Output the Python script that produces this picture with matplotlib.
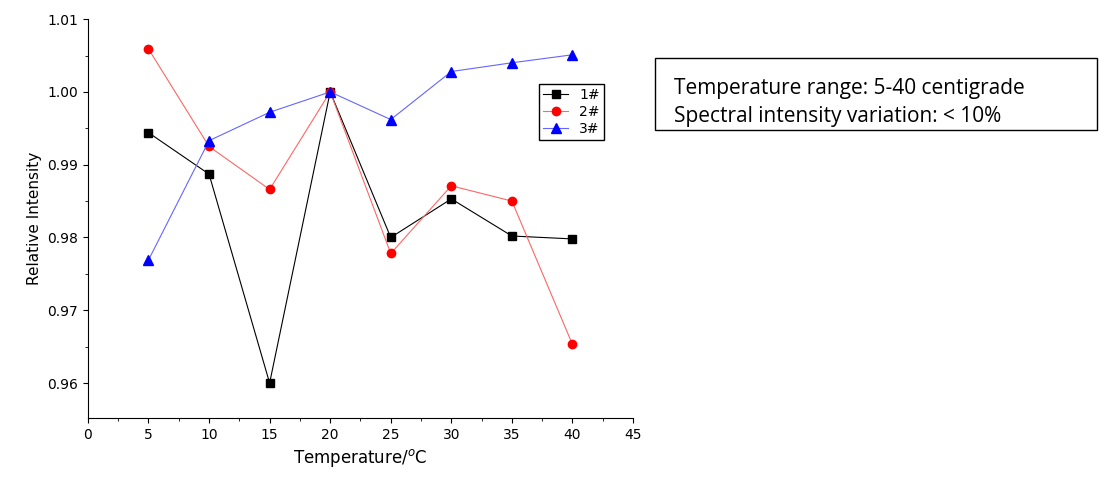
import matplotlib.pyplot as plt
from matplotlib.ticker import MultipleLocator
from matplotlib.patches import Rectangle

temps = [5, 10, 15, 20, 25, 30, 35, 40]
s1 = [0.9944, 0.9887, 0.9600, 1.0000, 0.9800, 0.9853, 0.9802, 0.9798]
s2 = [1.0059, 0.9925, 0.9866, 1.0000, 0.9778, 0.9871, 0.9850, 0.9653]
s3 = [0.9769, 0.9933, 0.9972, 1.0000, 0.9962, 1.0028, 1.0040, 1.0051]

fig = plt.figure(figsize=(10.99, 4.90), dpi=100)
ax = fig.add_axes([0.080, 0.147, 0.496, 0.814])
ax.plot(temps, s1, color='black', marker='s', ms=6, lw=0.8, label='1#')
ax.plot(temps, s2, color='#ff6666', mfc='red', mec='red', marker='o', ms=6, lw=0.8, label='2#')
ax.plot(temps, s3, color='#6666ff', mfc='blue', mec='blue', marker='^', ms=7, lw=0.8, label='3#')

ax.set_xlim(0, 45)
ax.set_ylim(0.9552, 1.01)
ax.xaxis.set_major_locator(MultipleLocator(5))
ax.xaxis.set_minor_locator(MultipleLocator(2.5))
ax.yaxis.set_major_locator(MultipleLocator(0.01))
ax.yaxis.set_minor_locator(MultipleLocator(0.005))
ax.yaxis.set_major_formatter(plt.FuncFormatter(lambda v, p: f'{v:.2f}'))
ax.spines['top'].set_visible(False)
ax.spines['right'].set_visible(False)
ax.tick_params(labelsize=10)
ax.set_xlabel('Temperature/$^{o}$C', fontsize=12)
ax.set_ylabel('Relative Intensity', fontsize=11)

ax.legend(loc='upper left', bbox_to_anchor=(0.815, 0.855), fancybox=False,
          edgecolor='black', fontsize=10, handlelength=1.8, borderpad=0.3,
          labelspacing=0.2, framealpha=1)

# annotation box
fig.patches.append(Rectangle((0.596, 0.735), 0.402, 0.147, transform=fig.transFigure,
                             fc='white', ec='black', lw=1))
fig.text(0.613, 0.820, 'Temperature range: 5-40 centigrade', fontsize=15,
         family='Open Sans', va='center')
fig.text(0.613, 0.763, 'Spectral intensity variation: < 10%', fontsize=15,
         family='Open Sans', va='center')

fig.savefig('out.png')
